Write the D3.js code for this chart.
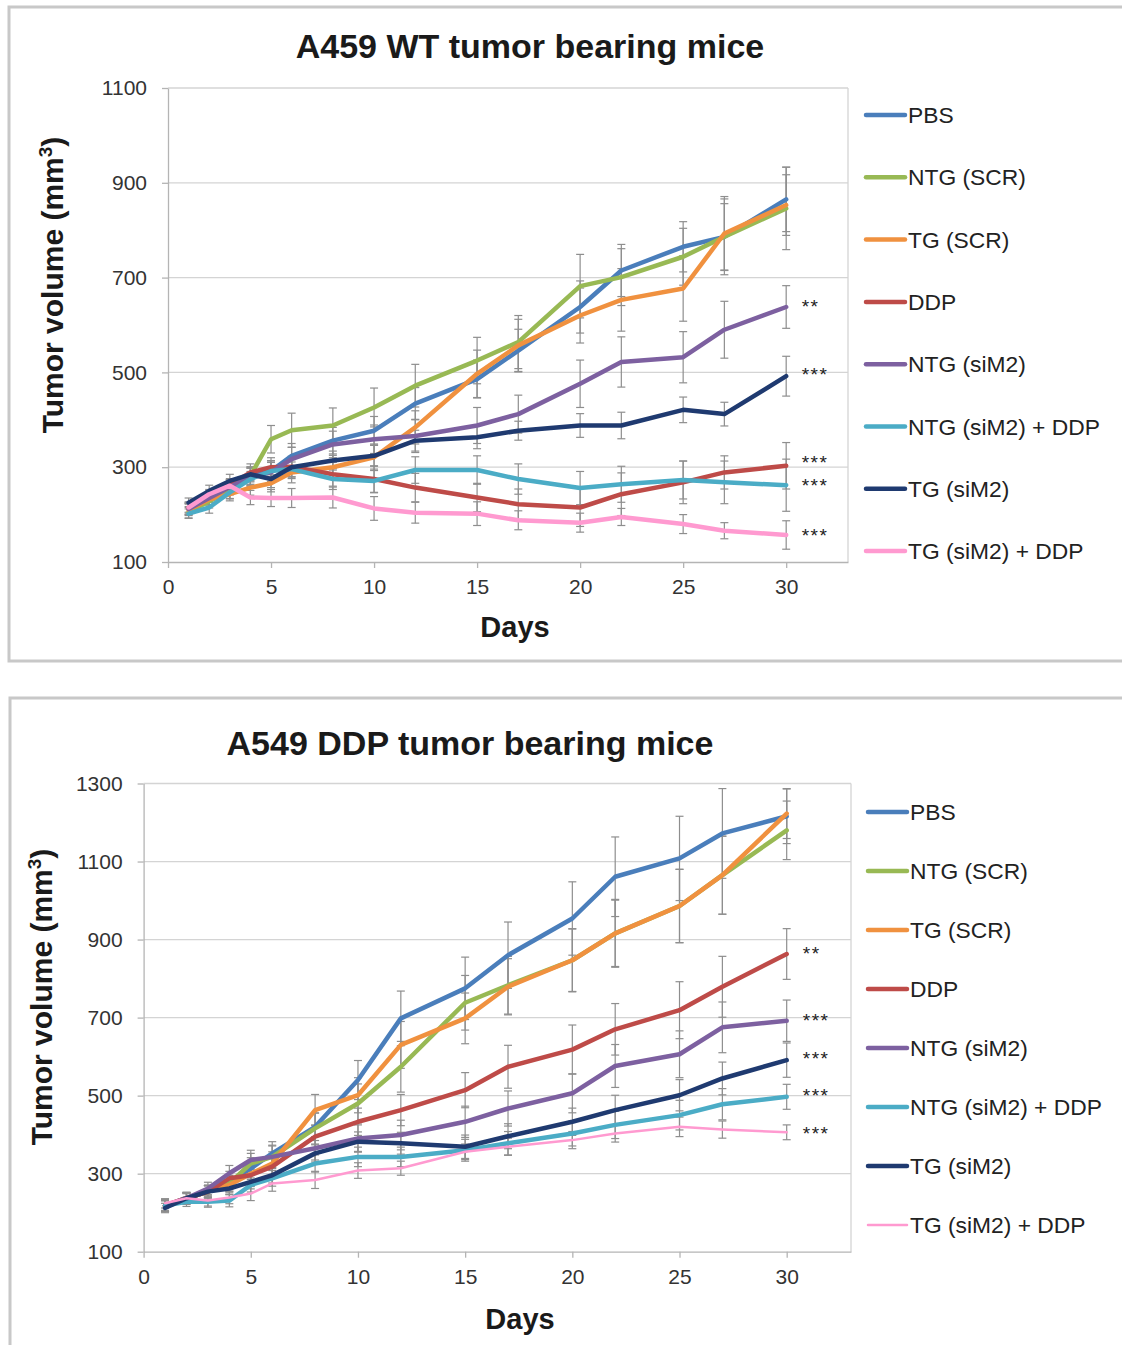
<!DOCTYPE html>
<html>
<head>
<meta charset="utf-8">
<script src="https://cdn.jsdelivr.net/npm/d3@7"></script>
<style>
    body { margin: 0; background: #fff; }
    svg { display: block; font-family: "Liberation Sans", Arial, sans-serif; }
    .tick text { font-size: 21px; fill: #333; }
</style>
</head>
<body>
<svg width="1122" height="1345"></svg>
<script>
// days on which the tumours were measured
var days = [1, 2, 3, 4, 5, 6, 8, 10, 12, 15, 17, 20, 22, 25, 27, 30];

var groupNames = ["PBS", "NTG (SCR)", "TG (SCR)", "DDP", "NTG (siM2)",
    "NTG (siM2) + DDP", "TG (siM2)", "TG (siM2) + DDP"];

// A459 WT mean volumes (mm3)
var wtPBS     = [212, 235, 258, 280, 292, 324, 356, 377, 434, 486, 546, 638, 715, 765, 786, 865];
var wtNtgScr  = [205, 228, 250, 282, 359, 378, 388, 426, 472, 525, 564, 682, 701, 744, 786, 846];
var wtTgScr   = [210, 232, 243, 257, 266, 289, 300, 321, 384, 497, 557, 620, 653, 677, 793, 853];
var wtDDP     = [215, 238, 262, 289, 300, 301, 285, 275, 257, 236, 222, 215, 243, 268, 289, 303];
var wtNtgSi   = [212, 235, 258, 280, 289, 317, 348, 359, 366, 388, 412, 476, 522, 532, 590, 638];
var wtNtgSiD  = [202, 215, 247, 275, 292, 296, 275, 271, 294, 294, 275, 256, 264, 273, 268, 262];
var wtTgSi    = [225, 250, 271, 285, 275, 300, 314, 324, 356, 363, 377, 388, 388, 421, 412, 492];
var wtTgSiD   = [215, 243, 261, 236, 235, 235, 236, 213, 204, 202, 188, 183, 195, 180, 166, 157];

// A459 WT error bars
var wtPBSErr    = [12, 14, 16, 18, 22, 26, 28, 30, 34, 40, 45, 55, 55, 53, 70, 68];
var wtNtgScrErr = [12, 14, 16, 18, 29, 36, 37, 41, 45, 49, 56, 67, 60, 60, 80, 87];
var wtTgScrErr  = [12, 12, 14, 16, 18, 22, 25, 28, 35, 50, 55, 58, 66, 69, 78, 64];
var wtDDPErr    = [12, 12, 14, 18, 20, 22, 25, 28, 30, 30, 32, 40, 45, 45, 35, 49];
var wtNtgSiErr  = [12, 14, 16, 18, 22, 25, 28, 30, 35, 38, 40, 50, 53, 54, 60, 45];
var wtNtgSiDErr = [10, 12, 14, 16, 18, 20, 22, 25, 28, 30, 32, 35, 38, 40, 45, 55];
var wtTgSiErr   = [10, 12, 14, 16, 18, 20, 20, 22, 22, 24, 20, 25, 28, 27, 25, 42];
var wtTgSiDErr  = [10, 10, 12, 15, 18, 20, 22, 25, 22, 25, 20, 20, 18, 20, 17, 30];

// A549 DDP mean volumes (mm3)
var ddpPBS    = [218, 237, 254, 278, 313, 352, 420, 540, 698, 775, 860, 954, 1061, 1108, 1172, 1216];
var ddpNtgScr = [218, 237, 254, 275, 326, 343, 416, 480, 574, 738, 783, 847, 916, 986, 1065, 1180];
var ddpTgScr  = [218, 237, 254, 271, 300, 326, 463, 501, 630, 698, 779, 847, 916, 986, 1065, 1223];
var ddpDDP    = [218, 237, 254, 288, 296, 318, 395, 433, 463, 514, 574, 618, 670, 719, 779, 863];
var ddpNtgSi  = [218, 237, 262, 301, 335, 343, 365, 390, 399, 433, 467, 506, 576, 606, 675, 692];
var ddpNtgSiD = [218, 228, 228, 231, 271, 288, 326, 343, 343, 360, 378, 403, 425, 450, 478, 497];
var ddpTgSi   = [212, 237, 254, 262, 279, 296, 352, 382, 378, 369, 396, 433, 463, 501, 544, 591];
var ddpTgSiD  = [224, 237, 231, 239, 249, 275, 284, 308, 314, 356, 369, 386, 403, 420, 413, 406];

// A549 DDP error bars
var ddpPBSErr    = [15, 15, 16, 18, 28, 30, 35, 50, 70, 80, 85, 94, 102, 108, 115, 70];
var ddpNtgScrErr = [15, 15, 16, 20, 26, 30, 40, 50, 65, 70, 74, 81, 85, 94, 100, 75];
var ddpTgScrErr  = [15, 15, 16, 20, 26, 30, 40, 45, 60, 65, 72, 80, 87, 94, 100, 64];
var ddpDDPErr    = [14, 14, 16, 18, 22, 26, 30, 35, 40, 45, 55, 63, 66, 73, 78, 65];
var ddpNtgSiErr  = [14, 14, 16, 20, 25, 28, 30, 35, 38, 40, 45, 50, 55, 60, 65, 53];
var ddpNtgSiDErr = [12, 12, 14, 16, 18, 20, 22, 25, 25, 28, 30, 32, 35, 38, 40, 32];
var ddpTgSiErr   = [12, 12, 14, 16, 18, 20, 22, 25, 28, 30, 32, 35, 38, 40, 42, 44];
var ddpTgSiDErr  = [12, 12, 14, 16, 18, 20, 22, 20, 18, 20, 22, 22, 22, 25, 22, 19];

// significance marks next to the day-30 points
var wtStars   = ["**", "***", "***", "***", "***"];
var wtStarAt  = [647, 502, 318, 269, 163];
var ddpStars  = ["**", "***", "***", "***", "***"];
var ddpStarAt = [873, 701, 604, 509, 412];

var xTicks = [0, 5, 10, 15, 20, 25, 30];
var wtYTicks = [100, 300, 500, 700, 900, 1100];
var ddpYTicks = [100, 300, 500, 700, 900, 1100, 1300];

var colors = ["#4a7ebb", "#98b954", "#f0913f", "#be4b48", "#7d60a0",
    "#4bacc6", "#1f3a70", "#ff9ad0"];

var svg = d3.select("svg");

var drawPanel = function(p) {
    // outer frame of the panel
    svg.append("rect")
        .attr("x", p.frame[0]).attr("y", p.frame[1])
        .attr("width", p.frame[2]).attr("height", p.frame[3])
        .attr("fill", "none")
        .attr("stroke", "#c8c8c8")
        .attr("stroke-width", 3);

    var width = p.right - p.left,
        height = p.bottom - p.top;

    var xScale = d3.scaleLinear().domain([0, 33]).range([0, width]),
        yScale = d3.scaleLinear().domain([100, p.yTicks[p.yTicks.length - 1]]).range([height, 0]);

    var g = svg.append("g")
        .attr("transform", "translate(" + p.left + "," + p.top + ")");

    // gridlines
    g.append("g")
        .selectAll("line")
        .data(p.yTicks.slice(1))
        .enter().append("line")
        .attr("x1", 0).attr("x2", width)
        .attr("y1", function(d) { return yScale(d); })
        .attr("y2", function(d) { return yScale(d); })
        .attr("stroke", "#d4d4d4")
        .attr("stroke-width", 1.3);

    // right border of plot area
    g.append("line")
        .attr("x1", width).attr("x2", width)
        .attr("y1", 0).attr("y2", height)
        .attr("stroke", "#d4d4d4")
        .attr("stroke-width", 1.3);

    var yAxis = d3.axisLeft(yScale).tickValues(p.yTicks).tickFormat(d3.format("d"))
        .tickSize(6).tickSizeOuter(0).tickPadding(15);
    var xAxis = d3.axisBottom(xScale).tickValues(xTicks).tickFormat(d3.format("d"))
        .tickSize(6).tickSizeOuter(0).tickPadding(11);

    var yG = g.append("g").call(yAxis);
    var xG = g.append("g").attr("transform", "translate(0," + height + ")").call(xAxis);
    [yG, xG].forEach(function(a) {
        a.select(".domain").attr("stroke", "#b4b4b4").attr("stroke-width", 1.3);
        a.selectAll(".tick line").attr("stroke", "#b4b4b4").attr("stroke-width", 1.3);
        a.selectAll(".tick text").attr("font-family", null).attr("font-size", null);
    });

    // error bars
    var eb = g.append("g").attr("stroke", "#8e8e8e").attr("stroke-width", 1.2);
    p.series.forEach(function(vals, si) {
        var err = p.errors[si];
        vals.forEach(function(v, i) {
            var cx = xScale(days[i]),
                y1 = yScale(v + err[i]),
                y2 = yScale(v - err[i]);
            eb.append("line").attr("x1", cx).attr("x2", cx).attr("y1", y1).attr("y2", y2);
            eb.append("line").attr("x1", cx - 4).attr("x2", cx + 4).attr("y1", y1).attr("y2", y1);
            eb.append("line").attr("x1", cx - 4).attr("x2", cx + 4).attr("y1", y2).attr("y2", y2);
        });
    });

    // series lines
    var line = d3.line()
        .x(function(d, i) { return xScale(days[i]); })
        .y(function(d) { return yScale(d); });

    p.series.forEach(function(vals, si) {
        g.append("path")
            .datum(vals)
            .attr("d", line)
            .attr("fill", "none")
            .attr("stroke", colors[si])
            .attr("stroke-width", p.widths[si])
            .attr("stroke-linejoin", "round")
            .attr("stroke-linecap", "round");
    });

    // significance stars
    g.selectAll(".star")
        .data(p.stars)
        .enter().append("text")
        .attr("class", "star")
        .attr("x", xScale(30.75))
        .attr("y", function(d, i) { return yScale(p.starAt[i]) + 10; })
        .attr("font-size", 19)
        .attr("letter-spacing", 1.5)
        .attr("fill", "#222")
        .text(function(d) { return d; });

    // title
    svg.append("text")
        .attr("x", p.titlePos[0]).attr("y", p.titlePos[1])
        .attr("text-anchor", "middle")
        .attr("font-size", 34)
        .attr("font-weight", "bold")
        .attr("fill", "#1a1a1a")
        .text(p.title);

    // axis titles
    svg.append("text")
        .attr("x", p.daysPos[0]).attr("y", p.daysPos[1])
        .attr("text-anchor", "middle")
        .attr("font-size", 29)
        .attr("font-weight", "bold")
        .attr("fill", "#1a1a1a")
        .text("Days");

    var yt = svg.append("text")
        .attr("transform", "translate(" + p.yLabelPos[0] + "," + p.yLabelPos[1] + ") rotate(-90)")
        .attr("text-anchor", "middle")
        .attr("font-size", 30)
        .attr("font-weight", "bold")
        .attr("fill", "#1a1a1a");
    yt.append("tspan").text("Tumor volume (mm");
    yt.append("tspan").attr("font-size", 19).attr("dy", -11).text("3");
    yt.append("tspan").attr("dy", 11).text(")");

    // legend
    var lg = svg.append("g");
    groupNames.forEach(function(name, i) {
        var ly = p.legend[1] + i * p.legend[2];
        lg.append("line")
            .attr("x1", p.legend[0]).attr("x2", p.legend[0] + 39)
            .attr("y1", ly).attr("y2", ly)
            .attr("stroke", colors[i])
            .attr("stroke-width", p.widths[i])
            .attr("stroke-linecap", "round");
        lg.append("text")
            .attr("x", p.legend[0] + 42)
            .attr("y", ly + 8)
            .attr("font-size", 22.8)
            .attr("fill", "#222")
            .text(name);
    });
};

drawPanel({
    frame: [9, 7, 1130, 654],
    left: 168, top: 88, right: 848, bottom: 562,
    yTicks: wtYTicks,
    series: [wtPBS, wtNtgScr, wtTgScr, wtDDP, wtNtgSi, wtNtgSiD, wtTgSi, wtTgSiD],
    errors: [wtPBSErr, wtNtgScrErr, wtTgScrErr, wtDDPErr, wtNtgSiErr, wtNtgSiDErr, wtTgSiErr, wtTgSiDErr],
    widths: [4.5, 4.5, 4.5, 4.5, 4.5, 4.5, 4.5, 4.5],
    stars: wtStars, starAt: wtStarAt,
    title: "A459 WT tumor bearing mice", titlePos: [530, 58],
    daysPos: [515, 637],
    yLabelPos: [63, 285],
    legend: [866, 115, 62.3]
});

drawPanel({
    frame: [10, 698, 1130, 700],
    left: 143.6, top: 783.5, right: 851, bottom: 1251.7,
    yTicks: ddpYTicks,
    series: [ddpPBS, ddpNtgScr, ddpTgScr, ddpDDP, ddpNtgSi, ddpNtgSiD, ddpTgSi, ddpTgSiD],
    errors: [ddpPBSErr, ddpNtgScrErr, ddpTgScrErr, ddpDDPErr, ddpNtgSiErr, ddpNtgSiDErr, ddpTgSiErr, ddpTgSiDErr],
    widths: [4.5, 4.5, 4.5, 4.5, 4.5, 4.5, 4.5, 2.5],
    stars: ddpStars, starAt: ddpStarAt,
    title: "A549 DDP tumor bearing mice", titlePos: [470, 755],
    daysPos: [520, 1329],
    yLabelPos: [52, 997],
    legend: [868, 812, 59]
});
</script>
</body>
</html>
